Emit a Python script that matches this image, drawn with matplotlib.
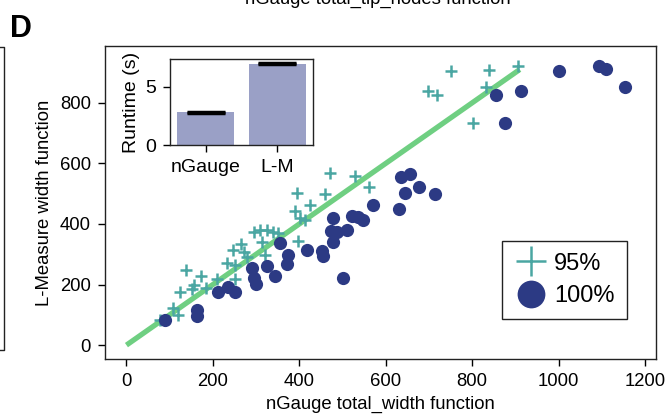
import matplotlib
matplotlib.use("Agg")
import matplotlib.pyplot as plt
from matplotlib.lines import Line2D

plt.rcParams["font.family"] = ["Liberation Sans", "DejaVu Sans"]
plt.rcParams["font.size"] = 13.3

# 95% subset (teal plus markers)
x95 = [78, 108, 120, 125, 138, 152, 157, 173, 185, 210, 233, 252, 252,
       247, 265, 272, 279, 295, 309, 325, 339, 351, 314, 321,
       390, 402, 413, 395, 397, 425, 459, 471, 528, 561,
       697, 718, 752, 833, 840, 905, 801]
y95 = [83, 122, 99, 175, 248, 185, 198, 228, 188, 218, 271, 264, 218,
       314, 334, 307, 291, 374, 380, 380, 374, 370, 340, 298,
       443, 420, 413, 502, 344, 463, 499, 569, 559, 522,
       840, 826, 906, 853, 909, 922, 734]

# 100% (navy dots)
x100 = [90, 164, 164, 212, 235, 252, 291, 295, 300, 325, 344, 355, 374, 372,
        418, 452, 455, 478, 473, 487, 478, 510, 522, 535, 547, 570, 501,
        630, 644, 655, 635, 678, 713, 854, 912, 877, 1002, 1094, 1110, 1154]
y100 = [83, 116, 96, 175, 192, 175, 255, 221, 202, 261, 228, 337, 298, 268,
        314, 311, 294, 420, 377, 374, 340, 380, 426, 423, 413, 463, 221,
        450, 502, 565, 555, 522, 499, 826, 840, 734, 906, 922, 912, 853]

line_x = [0, 910]

# inset: runtime
tools = ["nGauge", "L-M"]
runtime = [2.82, 6.98]
runtime_err = [0.05, 0.05]

TEAL = "#4aa6a2"
NAVY = "#2c3a84"
GREEN = "#6fcf82"
BAR = "#9aa0c6"

fig = plt.figure(figsize=(6.72, 4.17), dpi=100)
ax = fig.add_axes([0.156, 0.139, 0.820, 0.751])

ax.plot(line_x, line_x, color=GREEN, lw=3.8, solid_capstyle="butt", zorder=1)
ax.plot(x95, y95, ls="none", marker="+", ms=9, mew=1.8, color=TEAL, zorder=2)
ax.plot(x100, y100, ls="none", marker="o", ms=9.5, mew=0, color=NAVY, zorder=3)

ax.set_xlim(-50, 1225)
ax.set_ylim(-46, 988)
ax.set_xticks([0, 200, 400, 600, 800, 1000, 1200])
ax.set_yticks([0, 200, 400, 600, 800])
ax.set_xlabel("nGauge total_width function", labelpad=4)
ax.set_ylabel("L-Measure width function", labelpad=5)
for s in ax.spines.values():
    s.set_linewidth(1.0)
    s.set_color("#222222")
ax.tick_params(length=5, width=1, pad=5)

handles = [
    Line2D([], [], ls="none", marker="+", ms=21, mew=1.8, color=TEAL),
    Line2D([], [], ls="none", marker="o", ms=20, mew=0, color=NAVY),
]
leg = ax.legend(handles, ["95%", "100%"], loc="lower right",
                bbox_to_anchor=(0.947, 0.128), borderaxespad=0,
                fontsize=17, fancybox=False, edgecolor="#222222",
                framealpha=1, handletextpad=0.3, handlelength=1.4,
                labelspacing=0.45, borderpad=0.5)
leg.get_frame().set_linewidth(1.0)

# inset bar chart
ins = fig.add_axes([0.253, 0.652, 0.213, 0.207])
ins.bar(tools, runtime, width=0.8, color=BAR, yerr=runtime_err,
        capsize=14, error_kw={"elinewidth": 1.5, "capthick": 2.5, "ecolor": "black"})
ins.set_ylim(0, 7.4)
ins.set_xlim(-0.5, 1.5)
ins.set_yticks([0, 5])
ins.set_ylabel("Runtime (s)", labelpad=4, fontsize=14)
ins.tick_params(length=5, width=1, pad=5, labelsize=14)
for s in ins.spines.values():
    s.set_linewidth(1.0)
    s.set_color("#222222")

fig.text(10 / 672, 1 - 37 / 417, "D", fontsize=22, fontweight="bold")
fig.text(378 / 672, 1 - 4 / 417, "nGauge total_tip_nodes function",
         ha="center", va="baseline", fontsize=13.3)
fig.add_artist(Line2D([0, 4 / 672, 4 / 672, 0],
                      [1 - 47 / 417, 1 - 47 / 417, 1 - 350 / 417, 1 - 350 / 417],
                      color="#222222", lw=1.0))

fig.savefig("out.png", dpi=100)
